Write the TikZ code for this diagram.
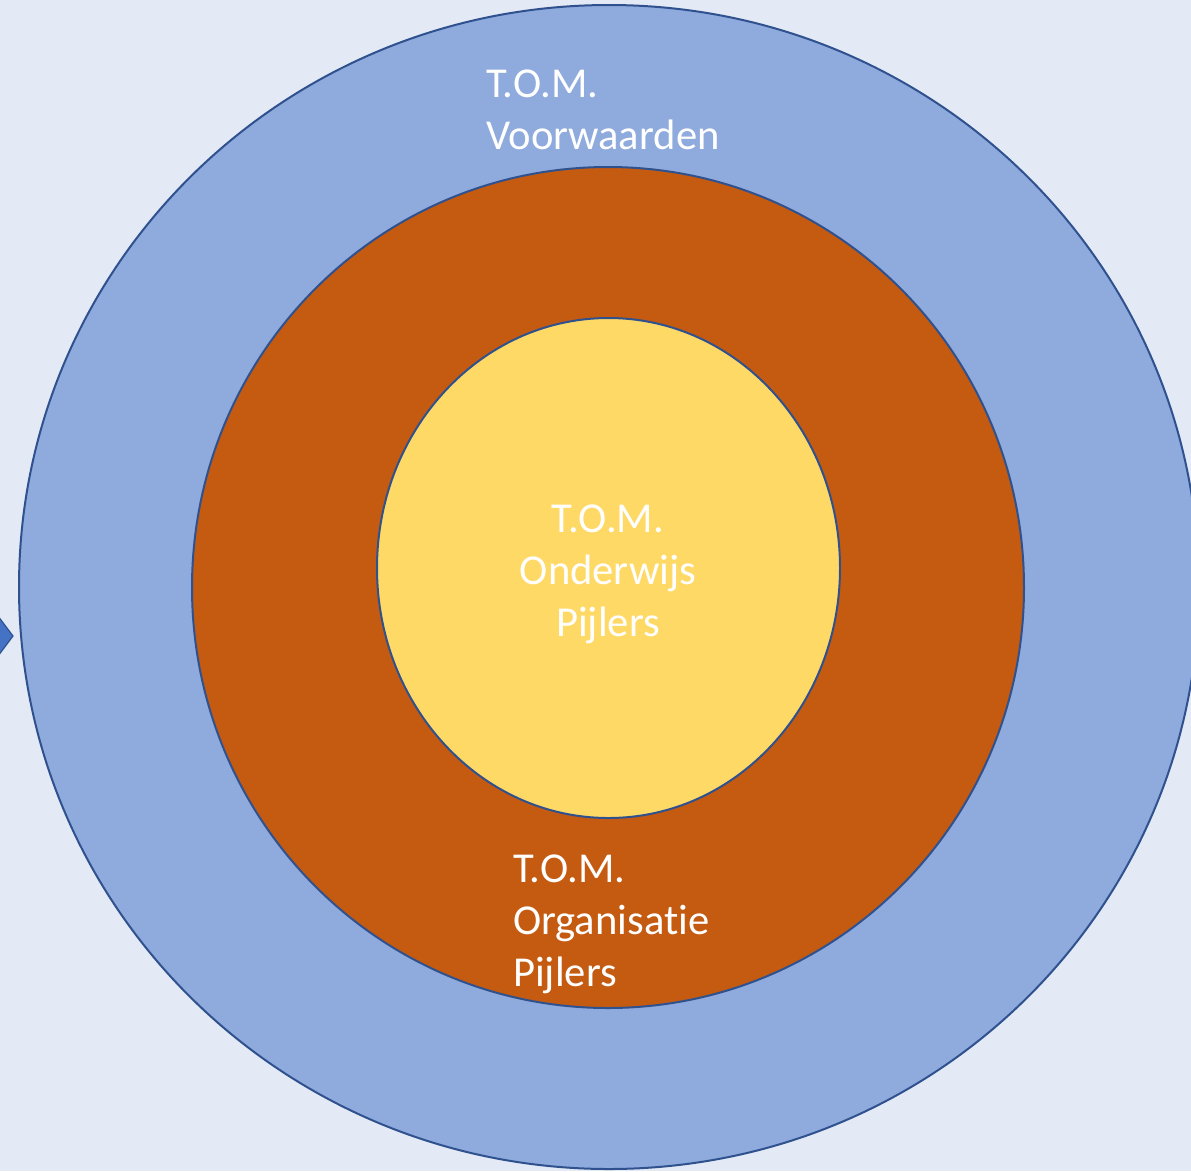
\documentclass[tikz,border=0pt]{standalone}
\usepackage{fontspec}
\setmainfont{Carlito}[Ligatures=NoCommon]
\definecolor{bg}{HTML}{E3E9F5}
\definecolor{outerblue}{HTML}{8FAADC}
\definecolor{ringorange}{HTML}{C55A11}
\definecolor{coreyellow}{HTML}{FFD966}
\definecolor{edgeblue}{HTML}{2F528F}
\definecolor{tipblue}{HTML}{4472C4}
\tikzset{
  ring/.style={draw=edgeblue, line width=2pt},
  lbl/.style={text=white, inner sep=0pt, font=\fontsize{42.6}{52}\selectfont},
}
\begin{document}
\begin{tikzpicture}[x=1pt,y=-1pt]
\useasboundingbox (0,0) rectangle (1191,1171);
\fill[bg] (0,0) rectangle (1191,1171);
\clip (0,0) rectangle (1191,1171);
\draw[ring, fill=outerblue] (609,587) ellipse [x radius=590pt, y radius=582pt];
\draw[ring, fill=ringorange] (608,587.5) ellipse [x radius=416pt, y radius=420.5pt];
\draw[ring, fill=coreyellow] (608.5,568) ellipse [x radius=231.5pt, y radius=250pt];
\draw[fill=tipblue, draw=edgeblue, line width=1.2pt] (-2,616) -- (13,636) -- (-2,656) -- cycle;
\node[lbl, anchor=north west, align=left] (voorw) at (486,70) {T.O.M.\\Voorwaarden};
\node[lbl, anchor=north, align=center] (onderw) at (608,504.5) {T.O.M.\\Onderwijs\\Pijlers};
\node[lbl, anchor=north west, align=left] (organ) at (513,854.5) {T.O.M.\\Organisatie\\Pijlers};
\end{tikzpicture}
\end{document}
